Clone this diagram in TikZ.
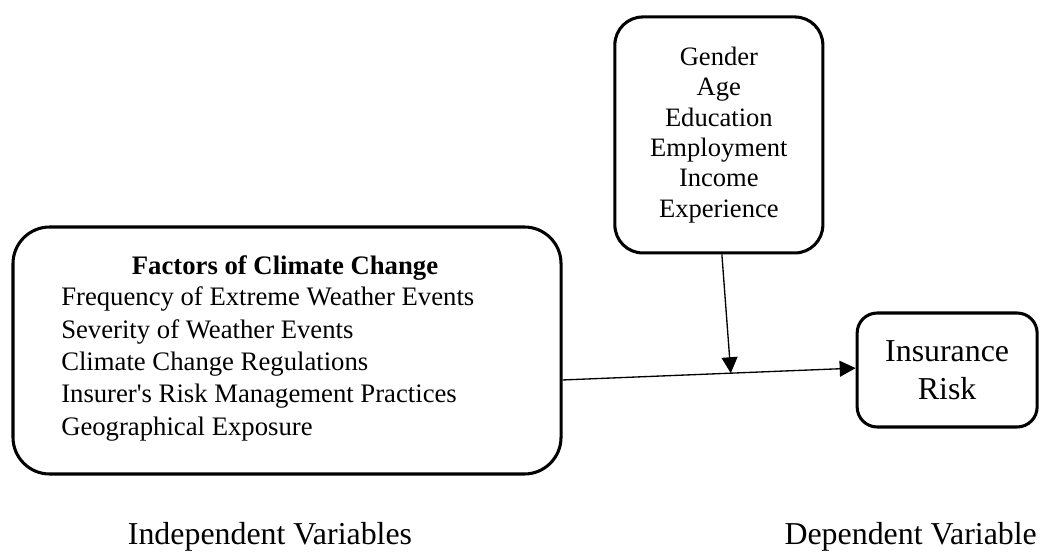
\documentclass[tikz,border=0pt]{standalone}
\usepackage{fontspec}
\setmainfont{Liberation Serif}
\usepackage{tikz}
\usetikzlibrary{arrows.meta,positioning,calc}

\begin{document}
\begin{tikzpicture}[
  varbox/.style={draw=black,line width=2.3pt,inner sep=0pt},
  arr/.style={line width=1pt,-{Triangle[length=12pt,width=12pt]}},
  itemtxt/.style={font=\fontsize{20.1}{24}\selectfont,anchor=base west,inner sep=0pt},
  bigtxt/.style={font=\fontsize{24}{28.5}\selectfont},
]
\useasboundingbox (0,0) rectangle (27.517,14.711);
% boxes
\node[varbox,rounded corners=0.97cm,minimum width=14.50cm,minimum height=6.535cm]
  (factors) at (7.594,5.437) {};
\node[varbox,rounded corners=0.74cm,minimum width=5.503cm,minimum height=6.244cm,
      align=center,font=\fontsize{20}{22.8}\selectfont]
  (demo) at (19.02,11.14) {Gender\\Age\\Education\\Employment\\Income\\Experience};
\node[varbox,bigtxt,rounded corners=0.53cm,minimum width=4.762cm,minimum height=3.016cm,
      align=center]
  (risk) at (25.06,4.921) {Insurance\\Risk};
% contents of the left box
\node[font=\fontsize{20.1}{24}\selectfont\bfseries,anchor=base,inner sep=0pt]
  (factorhead) at (7.541,7.435) {Factors of Climate Change};
\foreach \i/\txt in {0/Frequency of Extreme Weather Events, 1/Severity of Weather Events,
                     2/Climate Change Regulations, 3/Insurer\textquotesingle s Risk Management Practices,
                     4/Geographical Exposure}
  \node[itemtxt] (item\i) at (1.614,6.615-0.855*\i) {\txt};
% connectors
\coordinate (src) at ([yshift=-0.78cm]factors.east);
\coordinate (dst) at ([yshift=0.05cm]risk.west);
\draw[arr] (src) -- (dst);
\coordinate (mid) at ($(src)!0.574!(dst)$);
\draw[arr] ([xshift=0.08cm]demo.south) -- (mid);
% captions
\node[bigtxt,anchor=base,inner sep=0pt] (indlabel) at (7.144,0.291) {Independent Variables};
\node[bigtxt,anchor=base east,inner sep=0pt] (deplabel) at (27.44,0.291) {Dependent Variable};
\end{tikzpicture}
\end{document}
